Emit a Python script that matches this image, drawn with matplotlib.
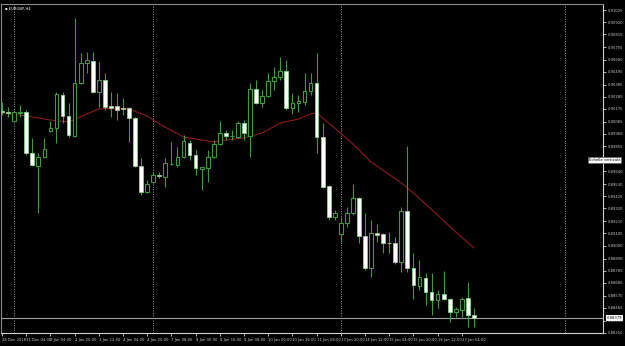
import numpy as np
import matplotlib
matplotlib.use('Agg')
import matplotlib.pyplot as plt

# EURGBP H4 candles (open, high, low, close), one entry per bar
opens = [0.90158, 0.90149, 0.90072, 0.90140, 0.90149, 0.89797, 0.89685, 0.89762, 0.89986, 0.90011,
         0.90295, 0.90115, 0.89943, 0.90398, 0.90570, 0.90587, 0.90321, 0.90424, 0.90200, 0.90200,
         0.90183, 0.90183, 0.90097, 0.89685, 0.89462, 0.89548, 0.89608, 0.89591, 0.89702, 0.89694,
         0.89762, 0.89883, 0.89780, 0.89659, 0.89668, 0.89762, 0.89874, 0.89969, 0.89943, 0.89934,
         0.90054, 0.89943, 0.90346, 0.90226, 0.90286, 0.90415, 0.90450, 0.90501, 0.90183, 0.90226,
         0.90235, 0.90329, 0.90398, 0.89934, 0.89513, 0.89247, 0.89101, 0.89195, 0.89281, 0.89410,
         0.89084, 0.88809, 0.89110, 0.89101, 0.89024, 0.89024, 0.88860, 0.89299, 0.88809, 0.88654,
         0.88723, 0.88603, 0.88534, 0.88586, 0.88543, 0.88431, 0.88448, 0.88551, 0.88405]
highs = [0.90235, 0.90192, 0.90166, 0.90209, 0.90166, 0.89926, 0.89797, 0.89926, 0.90072, 0.90321,
         0.90321, 0.90226, 0.90956, 0.90656, 0.90664, 0.90664, 0.90578, 0.90484, 0.90321, 0.90312,
         0.90269, 0.90192, 0.90106, 0.89754, 0.89565, 0.89634, 0.89634, 0.89754, 0.89891, 0.89848,
         0.89951, 0.89908, 0.89822, 0.89676, 0.89822, 0.89908, 0.90072, 0.89994, 0.89994, 0.90072,
         0.90080, 0.90398, 0.90424, 0.90338, 0.90484, 0.90535, 0.90621, 0.90596, 0.90312, 0.90295,
         0.90484, 0.90484, 0.90656, 0.90054, 0.89522, 0.89307, 0.89247, 0.89333, 0.89530, 0.89419,
         0.89281, 0.89221, 0.89187, 0.89110, 0.89118, 0.89075, 0.89333, 0.89857, 0.88938, 0.88878,
         0.88766, 0.88766, 0.88620, 0.88783, 0.88551, 0.88474, 0.88560, 0.88689, 0.88465]
lows = [0.90123, 0.90106, 0.90063, 0.90106, 0.89780, 0.89685, 0.89281, 0.89754, 0.89977, 0.89883,
        0.90054, 0.89934, 0.89934, 0.90389, 0.90484, 0.90312, 0.90192, 0.90166, 0.90106, 0.90080,
        0.90123, 0.89891, 0.89676, 0.89436, 0.89453, 0.89539, 0.89582, 0.89505, 0.89694, 0.89676,
        0.89754, 0.89737, 0.89608, 0.89479, 0.89548, 0.89754, 0.89865, 0.89908, 0.89908, 0.89926,
        0.89908, 0.89762, 0.90218, 0.90192, 0.90278, 0.90338, 0.90424, 0.90166, 0.90132, 0.90149,
        0.90209, 0.90295, 0.89797, 0.89497, 0.89221, 0.89221, 0.89032, 0.89161, 0.89264, 0.89024,
        0.88792, 0.88732, 0.89032, 0.88938, 0.88938, 0.88843, 0.88775, 0.88775, 0.88543, 0.88620,
        0.88491, 0.88405, 0.88465, 0.88534, 0.88345, 0.88388, 0.88388, 0.88302, 0.88302]
closes = [0.90149, 0.90140, 0.90149, 0.90149, 0.89797, 0.89690, 0.89762, 0.89831, 0.90011, 0.90304,
          0.90115, 0.89951, 0.90398, 0.90570, 0.90596, 0.90321, 0.90424, 0.90192, 0.90183, 0.90166,
          0.90175, 0.90097, 0.89685, 0.89462, 0.89530, 0.89608, 0.89599, 0.89711, 0.89706, 0.89762,
          0.89900, 0.89780, 0.89668, 0.89676, 0.89762, 0.89874, 0.89969, 0.89943, 0.89947, 0.90054,
          0.89969, 0.90346, 0.90226, 0.90286, 0.90415, 0.90450, 0.90501, 0.90183, 0.90226, 0.90243,
          0.90329, 0.90398, 0.89934, 0.89505, 0.89247, 0.89281, 0.89195, 0.89281, 0.89410, 0.89084,
          0.88809, 0.89110, 0.89092, 0.89024, 0.89020, 0.88860, 0.89299, 0.88809, 0.88663, 0.88732,
          0.88603, 0.88534, 0.88586, 0.88543, 0.88431, 0.88457, 0.88543, 0.88405, 0.88379]

# moving average read at a few bars
ma_bars = [0, 4, 8, 11, 14, 16, 19, 21, 24, 26, 30, 35, 37, 40, 43, 46, 49, 51, 52, 55, 58, 61, 66, 68, 72, 75, 78]
ma_vals = [0.90140, 0.90115, 0.90080, 0.90063, 0.90132, 0.90175, 0.90183, 0.90175, 0.90115, 0.90046,
           0.89934, 0.89891, 0.89908, 0.89926, 0.89969, 0.90054, 0.90089, 0.90132, 0.90140, 0.90011,
           0.89874, 0.89719, 0.89539, 0.89453, 0.89264, 0.89118, 0.88981]

time_labels = ['28 Dec 2018', '31 Dec 04:00', '2 Jan 04:00', '2 Jan 20:00', '3 Jan 12:00',
               '4 Jan 04:00', '4 Jan 20:00', '7 Jan 08:00', '8 Jan 00:00', '8 Jan 16:00',
               '9 Jan 08:00', '10 Jan 00:00', '10 Jan 16:00', '11 Jan 08:00', '13 Jan 20:00',
               '14 Jan 12:00', '15 Jan 04:00', '15 Jan 20:00', '16 Jan 12:00', '17 Jan 04:00']
price_ticks = [0.91025, 0.90920, 0.90815, 0.90705, 0.90600, 0.90495, 0.90385, 0.90280, 0.90175,
               0.90065, 0.89960, 0.89855, 0.89745, 0.89640, 0.89530, 0.89425, 0.89320, 0.89210,
               0.89105, 0.89000, 0.88890, 0.88785, 0.88680, 0.88570, 0.88465, 0.88355, 0.88250]
week_separators = [2, 25, 56, 93]

green = '#3f9a3f'
txt = '#c8c8c8'
fs = 2.7

fig = plt.figure(figsize=(6.25, 3.46), dpi=100, facecolor='black')
ax = fig.add_axes([1 / 625, 13 / 346, 602 / 625, 329 / 346], facecolor='black')

o = np.array(opens); h = np.array(highs); l = np.array(lows); c = np.array(closes)
x = np.arange(len(o))
up = c >= o

# separators
for s in week_separators:
    ax.axvline(s, color='#9a9a9a', lw=0.7, ls=(0, (1, 1.5)), zorder=1)

# moving average
ax.plot(ma_bars, ma_vals, color='#8c1c1c', lw=0.8, zorder=2)

# wicks
ax.vlines(x, l, h, color=green, lw=0.8, zorder=3)
# bodies
bottom = np.minimum(o, c)
height = np.maximum(np.abs(c - o), 0.00002)
ax.bar(x[up], height[up], bottom=bottom[up], width=0.62, color='black',
       edgecolor=green, linewidth=0.8, zorder=4)
ax.bar(x[~up], height[~up], bottom=bottom[~up], width=0.62, color='white',
       edgecolor='#8fcf8f', linewidth=0.6, zorder=4)

# bid line
last = closes[-1]
ax.axhline(last, color='#a0a0a0', lw=0.8, zorder=1)

ax.set_xlim(-0.17, 99.34)
ax.set_ylim(0.88250, 0.91077)

for sp in ['left', 'top']:
    ax.spines[sp].set_color('#8a8a8a')
    ax.spines[sp].set_linewidth(0.8)
for sp in ['right', 'bottom']:
    ax.spines[sp].set_color('#d0d0d0')
    ax.spines[sp].set_linewidth(0.8)

ax.set_xticks(np.arange(0, 4 * len(time_labels), 4))
ax.set_xticklabels(time_labels, ha='left')
ax.yaxis.tick_right()
ax.set_yticks(price_ticks)
ax.set_yticklabels(['%.5f' % v for v in price_ticks])
ax.tick_params(axis='x', colors='#d0d0d0', labelcolor=txt, labelsize=fs, length=2, width=0.6, pad=1.5)
ax.tick_params(axis='y', colors='#d0d0d0', labelcolor=txt, labelsize=fs, length=2, width=0.6, pad=1.5)

# current price box
ax.text(1.006, last, '%.5f' % last, transform=ax.get_yaxis_transform(), fontsize=fs,
        color='black', va='center', ha='left',
        bbox=dict(boxstyle='square,pad=0.2', fc='white', ec='none'))

# tooltip on price scale
fig.text(589 / 625, 1 - 160 / 346, 'Echelle verticale', fontsize=fs, color='black',
         va='center', ha='left', bbox=dict(boxstyle='square,pad=0.25', fc='white', ec='#606060', lw=0.5))

# title
fig.text(5 / 625, 1 - 9 / 346, '\u25aa EURGBP,H4', fontsize=fs, color='white', va='center', ha='left')

fig.savefig('out.png', dpi=100, facecolor='black')
